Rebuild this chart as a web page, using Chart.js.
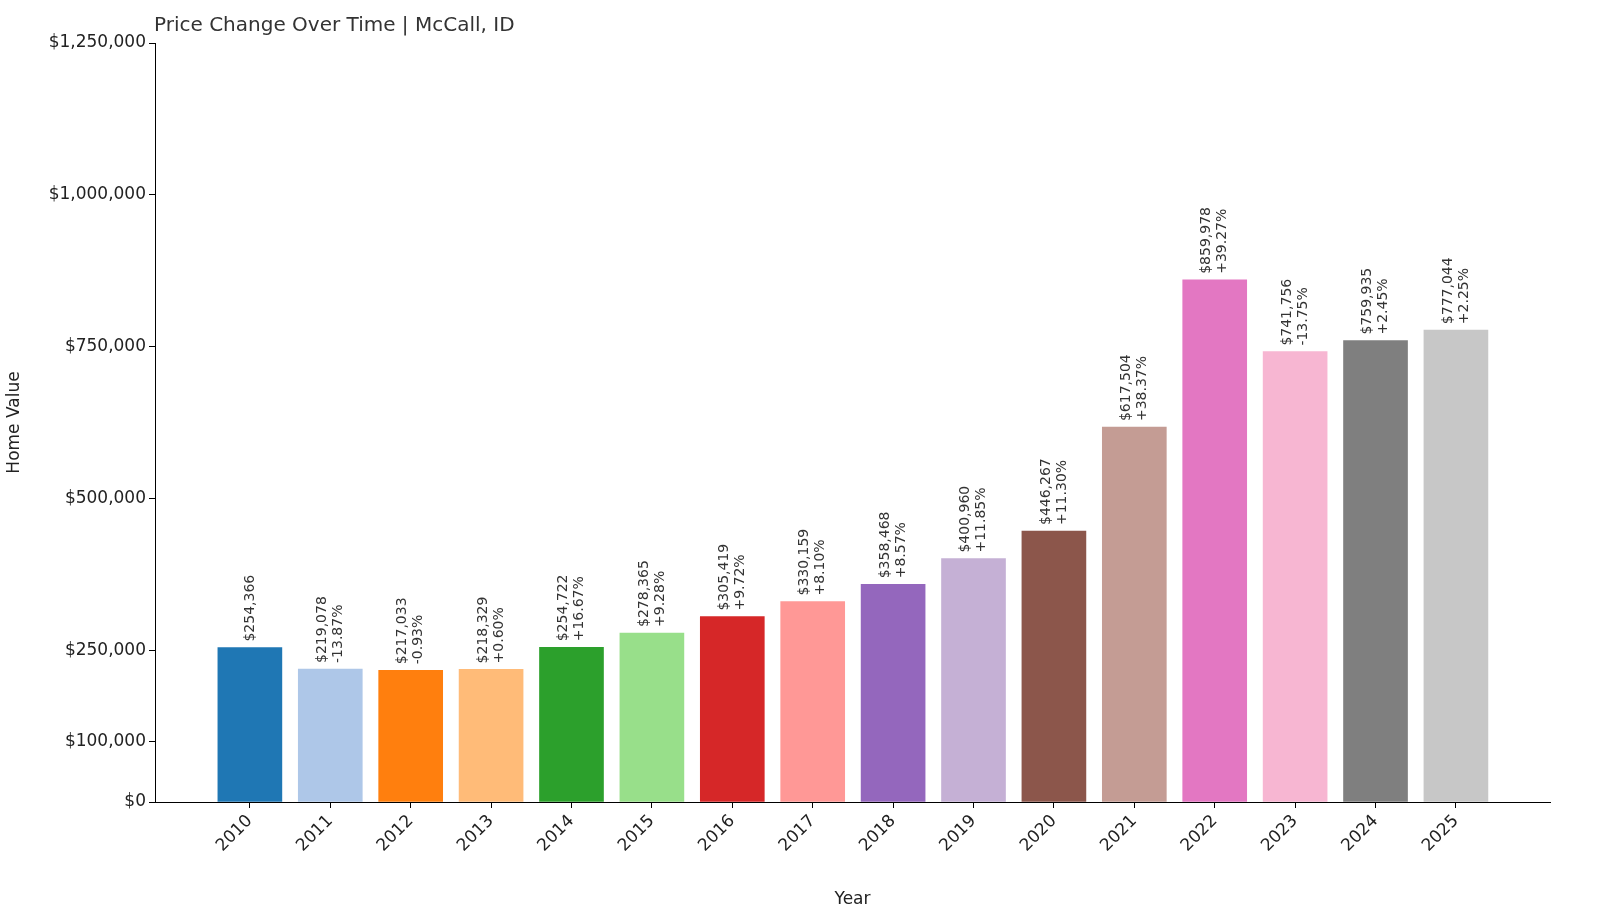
<!DOCTYPE html>
<html>
<head>
<meta charset="utf-8">
<script src="https://cdn.jsdelivr.net/npm/chart.js@4"></script>
<style>
  html, body { margin: 0; padding: 0; background: #fff; overflow: hidden; }
  #wrap { width: 1600px; height: 914px; }
</style>
</head>
<body>
<div id="wrap"><canvas id="chart"></canvas></div>
<script>
const years = ["2010","2011","2012","2013","2014","2015","2016","2017","2018","2019","2020","2021","2022","2023","2024","2025"];
const values = [254366,219078,217033,218329,254722,278365,305419,330159,358468,400960,446267,617504,859978,741756,759935,777044];
const changes = ["","-13.87%","-0.93%","+0.60%","+16.67%","+9.28%","+9.72%","+8.10%","+8.57%","+11.85%","+11.30%","+38.37%","+39.27%","-13.75%","+2.45%","+2.25%"];
const colors = ["#1f77b4","#aec7e8","#ff7f0e","#ffbb78","#2ca02c","#98df8a","#d62728","#ff9896","#9467bd","#c5b0d5","#8c564b","#c49c94","#e377c2","#f7b6d2","#7f7f7f","#c7c7c7"];
const yTicks = [0,100000,250000,500000,750000,1000000,1250000];

const font = "'DejaVu Sans', sans-serif";
const money = (v) => "$" + v.toLocaleString("en-US");

const labelPlugin = {
  id: "barLabels",
  afterDatasetsDraw(chart) {
    const ctx = chart.ctx;
    const meta = chart.getDatasetMeta(0);
    ctx.save();
    ctx.fillStyle = "#333";
    ctx.font = "14px " + font;
    ctx.textBaseline = "middle";
    ctx.textAlign = "left";
    meta.data.forEach((bar, i) => {
      ctx.save();
      ctx.translate(bar.x, bar.y - 6);
      ctx.rotate(-Math.PI / 2);
      if (changes[i]) {
        ctx.fillText(money(values[i]), 0, -8);
        ctx.fillText(changes[i], 0, 8);
      } else {
        ctx.fillText(money(values[i]), 0, 0);
      }
      ctx.restore();
    });
    ctx.font = "20px " + font;
    ctx.fillText("Price Change Over Time | McCall, ID", 154, 26);
    ctx.restore();
  }
};

new Chart(document.getElementById("chart"), {
  type: "bar",
  data: {
    datasets: [{
      data: values.map((v, i) => ({ x: i, y: v })),
      backgroundColor: colors,
      barThickness: 64
    }]
  },
  options: {
    responsive: true,
    maintainAspectRatio: false,
    animation: false,
    layout: { padding: { top: 43, right: 50, left: 0, bottom: 0 } },
    plugins: { legend: { display: false }, tooltip: { enabled: false } },
    scales: {
      x: {
        type: "linear",
        offset: false,
        min: -1.18,
        max: 16.17,
        afterBuildTicks: (s) => { s.ticks = years.map((_, i) => ({ value: i })); },
        afterFit: (s) => { s.height = 112; },
        ticks: {
          callback: (v) => years[v],
          maxRotation: 45, minRotation: 45,
          color: "#222", font: { size: 17, family: font }
        },
        grid: { display: true, drawOnChartArea: false, tickLength: 6, color: "#000", offset: false },
        border: { color: "#000" },
        title: { display: true, text: "Year", color: "#222", font: { size: 17, family: font }, padding: { top: 0, bottom: 4 } }
      },
      y: {
        min: 0,
        max: 1250000,
        afterBuildTicks: (s) => { s.ticks = yTicks.map((v) => ({ value: v })); },
        afterFit: (s) => { s.width = 155; },
        ticks: {
          callback: (v) => money(v),
          color: "#222", font: { size: 17, family: font }
        },
        grid: { display: true, drawOnChartArea: false, tickLength: 6, color: "#000" },
        border: { color: "#000" },
        title: { display: true, text: "Home Value", color: "#222", font: { size: 17, family: font }, padding: { left: 12 } }
      }
    }
  },
  plugins: [labelPlugin]
});
</script>
</body>
</html>
